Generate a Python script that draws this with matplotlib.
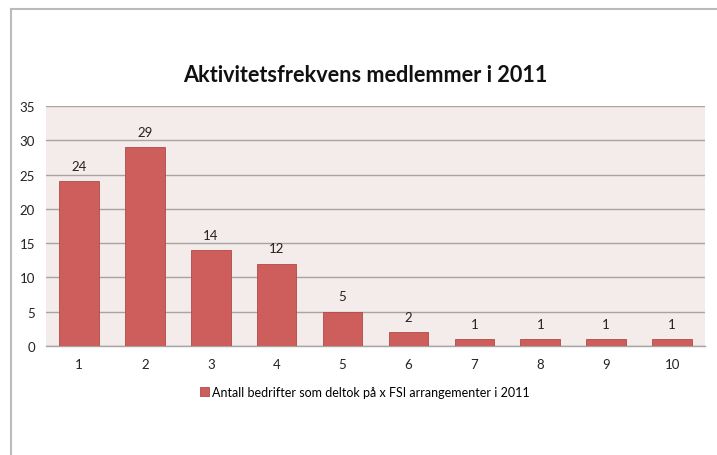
import matplotlib
matplotlib.use("Agg")
import matplotlib.pyplot as plt
from matplotlib.lines import Line2D
from matplotlib.patches import Patch

# Data
categories = ["1", "2", "3", "4", "5", "6", "7", "8", "9", "10"]
counts = [24, 29, 14, 12, 5, 2, 1, 1, 1, 1]
series_label = "Antall bedrifter som deltok på x FSI arrangementer i 2011"
title = "Aktivitetsfrekvens medlemmer i 2011"

plt.rcParams["font.family"] = ["Lato", "DejaVu Sans"]

W, H = 717, 456
fig = plt.figure(figsize=(W / 100, H / 100), dpi=100)
fig.patch.set_facecolor("white")

# Plot area placement (pixels -> figure fraction)
left, right, top, bottom = 46, 705, 107, 347
ax = fig.add_axes([left / W, 1 - bottom / H, (right - left) / W, (bottom - top) / H])
ax.set_facecolor("#F3ECEA")

x = list(range(len(categories)))
bars = ax.bar(x, counts, width=0.6, color="#CD5E5B", edgecolor="#B04A47", linewidth=0.6, zorder=3)

for xi, v in zip(x, counts):
    ax.text(xi, v + 1.35, str(v), ha="center", va="bottom", fontsize=9.5, color="#222222", zorder=4)

ax.set_xlim(-0.5, len(categories) - 0.5)
ax.set_ylim(0, 35)
ax.set_yticks(range(0, 36, 5))
ax.set_xticks(x)
ax.set_xticklabels(categories)
ax.yaxis.grid(True, color="#A8A4A4", linewidth=1.0, zorder=0)
ax.set_axisbelow(True)
for s in ["top", "right", "left"]:
    ax.spines[s].set_visible(False)
ax.spines["bottom"].set_color("#A8A4A4")
ax.spines["bottom"].set_linewidth(1.0)
ax.tick_params(axis="both", length=0, labelsize=9.5, colors="#222222")
ax.tick_params(axis="y", pad=8)
ax.tick_params(axis="x", pad=9)

fig.text(365 / W, 1 - 75 / H, title, ha="center", va="center",
         fontsize=15.6, fontweight="bold", color="#111111")

handle = Patch(facecolor="#CD5E5B", edgecolor="#B04A47", linewidth=0.6)
fig.legend([handle], [series_label], loc="center", bbox_to_anchor=(365 / W, 1 - 393 / H),
           frameon=False, fontsize=9, handlelength=0.7, handleheight=0.7,
           handletextpad=0.3, borderaxespad=0)

# Thin grey border of the chart frame (top and left)
fig.add_artist(Line2D([11 / W, 1], [1 - 10 / H, 1 - 10 / H], color="#BBBBBB", linewidth=1.5))
fig.add_artist(Line2D([11 / W, 11 / W], [0, 1 - 10 / H], color="#BBBBBB", linewidth=1.5))

fig.savefig("out.png", dpi=100)
